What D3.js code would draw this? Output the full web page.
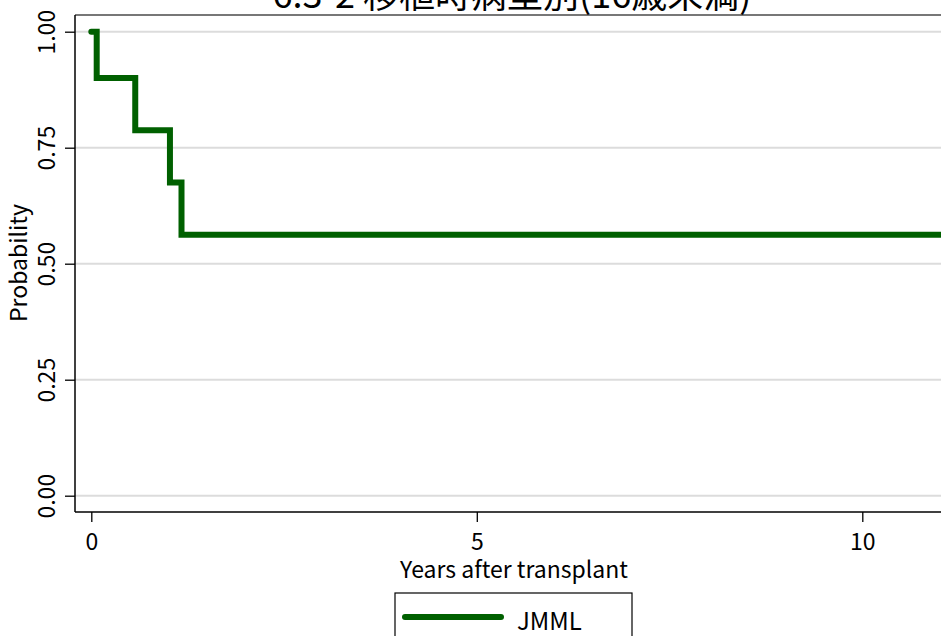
<!DOCTYPE html>
<html><head><meta charset="utf-8">
<script src="https://cdn.jsdelivr.net/npm/d3@7"></script>
<style>
html,body{margin:0;padding:0;background:#fff;overflow:hidden}
text{font-family:"Noto Sans CJK JP","DejaVu Sans",sans-serif;fill:#000}
</style></head>
<body>
<script>
// ---- data ----
const titleText = "6.3-2 移植時病型別(16歳未満)";
const xLabel = "Years after transplant";
const yLabel = "Probability";
const seriesName = "JMML";
const times = [0, 0.07, 0.57, 1.02, 1.17, 11.2];
const survival = [1.0, 0.9, 0.7875, 0.675, 0.5625, 0.5625];
const xTicks = [0, 5, 10];
const yTicks = [0, 0.25, 0.5, 0.75, 1.0];

const W = 941, H = 636;
const svg = d3.select("body").append("svg").attr("width", W).attr("height", H);

const plotL = 75, plotT = 15, plotB = 512, plotR = 960;
const x = d3.scaleLinear().domain([0, 10]).range([91.3, 862.3]);
const y = d3.scaleLinear().domain([0, 1]).range([495.7, 31.7]);

// plot region border (top)
svg.append("line").attr("x1", plotL).attr("x2", plotR).attr("y1", plotT).attr("y2", plotT)
  .attr("stroke", "#4a4a4a").attr("stroke-width", 1.5);

// gridlines
svg.append("g").selectAll("line").data(yTicks).join("line")
  .attr("x1", plotL).attr("x2", plotR)
  .attr("y1", d => y(d)).attr("y2", d => y(d))
  .attr("stroke", "#dcdcdc").attr("stroke-width", 2);

// y axis
const yAxis = d3.axisLeft(y).tickValues(yTicks).tickSize(10).tickPadding(10)
  .tickFormat(d3.format(".2f"));
const gy = svg.append("g").attr("transform", `translate(${plotL},0)`).call(yAxis);
gy.select(".domain").attr("d", `M0,${plotT}V${plotB}`).attr("stroke", "#000").attr("stroke-width", 1.5);
gy.selectAll(".tick line").attr("stroke", "#000").attr("stroke-width", 1.3);
gy.selectAll(".tick text")
  .attr("x", null).attr("dy", null)
  .attr("transform", "translate(-20,0) rotate(-90)")
  .attr("text-anchor", "middle")
  .style("font-size", "23px").style("font-family", "'Noto Sans CJK JP',sans-serif");

// x axis
const xAxis = d3.axisBottom(x).tickValues(xTicks).tickSize(10).tickPadding(12)
  .tickFormat(d3.format("d"));
const gx = svg.append("g").attr("transform", `translate(0,${plotB})`).call(xAxis);
gx.select(".domain").attr("d", `M${plotL},0H${plotR}`).attr("stroke", "#000").attr("stroke-width", 1.5);
gx.selectAll(".tick line").attr("stroke", "#000").attr("stroke-width", 1.3);
gx.selectAll(".tick text").attr("dy", null).attr("y", 38)
  .style("font-size", "23px").style("font-family", "'Noto Sans CJK JP',sans-serif");

// step line
const pts = times.map((t, i) => [t, survival[i]]);
const line = d3.line().x(d => x(d[0])).y(d => y(d[1])).curve(d3.curveStepAfter);
svg.append("path").datum(pts).attr("d", line)
  .attr("fill", "none").attr("stroke", "#006000").attr("stroke-width", 6)
  .attr("stroke-linejoin", "miter").attr("stroke-linecap", "round");

// title
svg.append("text").attr("x", 512).attr("y", 8).attr("text-anchor", "middle")
  .style("font-size", "36px").text(titleText);

// axis titles
svg.append("text").attr("x", 514).attr("y", 578).attr("text-anchor", "middle")
  .style("font-size", "23px").text(xLabel);
svg.append("text").attr("transform", "translate(27,263) rotate(-90)").attr("text-anchor", "middle")
  .style("font-size", "23px").text(yLabel);

// legend
const lg = svg.append("g");
lg.append("rect").attr("x", 395).attr("y", 593).attr("width", 237).attr("height", 70)
  .attr("fill", "#fff").attr("stroke", "#000").attr("stroke-width", 1.2);
lg.append("line").attr("x1", 405).attr("x2", 501).attr("y1", 617).attr("y2", 617)
  .attr("stroke", "#006000").attr("stroke-width", 6).attr("stroke-linecap", "round");
lg.append("text").attr("x", 517).attr("y", 630).style("font-size", "24px").text(seriesName);
</script>
</body></html>
